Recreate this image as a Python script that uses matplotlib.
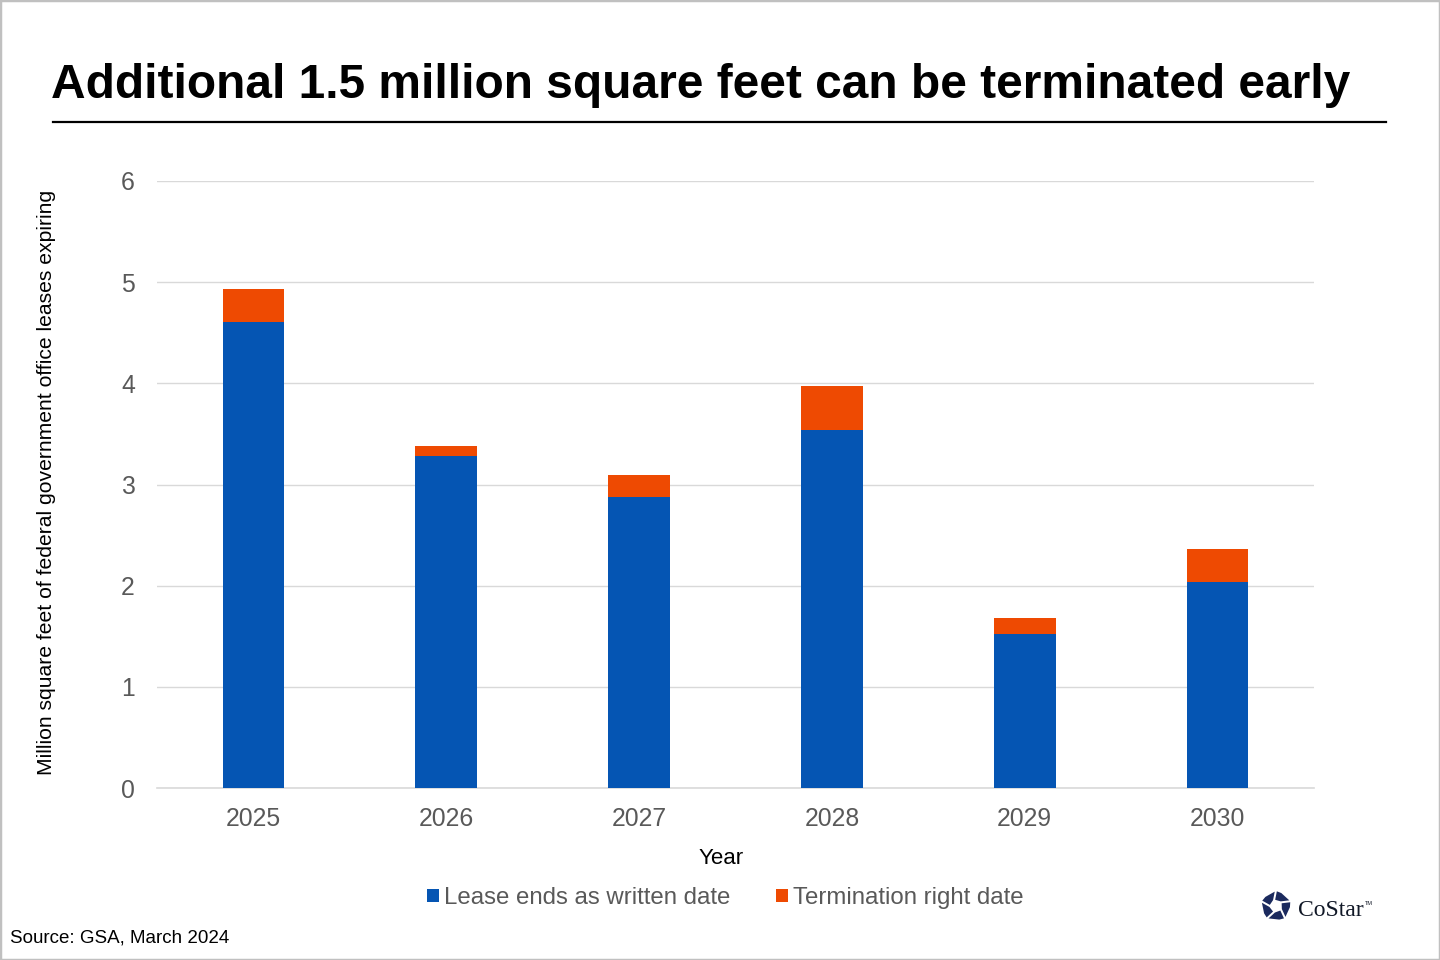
import numpy as np
import matplotlib
matplotlib.use("Agg")
import matplotlib.pyplot as plt
from matplotlib.patches import Polygon, Rectangle
from matplotlib.lines import Line2D

years = ["2025", "2026", "2027", "2028", "2029", "2030"]
lease_ends = [4.61, 3.28, 2.88, 3.54, 1.52, 2.04]
termination = [0.32, 0.10, 0.21, 0.43, 0.16, 0.32]
series_names = ["Lease ends as written date", "Termination right date"]
yticks = [0, 1, 2, 3, 4, 5, 6]

BLUE = "#0555B3"
ORANGE = "#EE4A02"
GRID = "#D9D9D9"
TICK = "#595959"

plt.rcParams["font.family"] = ["Liberation Sans", "DejaVu Sans"]

fig = plt.figure(figsize=(14.4, 9.6), dpi=100)
W, H = 1440, 960

def fx(px):
    return px / W

def fy(py):
    return 1 - py / H

ax = fig.add_axes([fx(157), fy(788), fx(1314) - fx(157), fy(181) - fy(788)])
x = np.arange(len(years))
b1 = ax.bar(x, lease_ends, width=0.32, color=BLUE, zorder=3)
b2 = ax.bar(x, termination, width=0.32, bottom=lease_ends, color=ORANGE, zorder=3)
ax.set_xlim(-0.5, len(years) - 0.5)
ax.set_ylim(0, 6)
ax.set_yticks(yticks)
ax.set_yticklabels([str(v) for v in yticks])
ax.set_xticks(x)
ax.set_xticklabels(years)
ax.tick_params(axis="both", length=0, labelsize=17.8, colors=TICK)
ax.tick_params(axis="y", pad=16)
ax.tick_params(axis="x", pad=13.5)
ax.yaxis.grid(True, color=GRID, lw=1, zorder=0)
ax.set_axisbelow(True)
for s in ["left", "right", "top"]:
    ax.spines[s].set_visible(False)
ax.spines["bottom"].set_color(GRID)
ax.spines["bottom"].set_linewidth(1.2)
ax.patch.set_alpha(0)

# Year label
fig.text(fx(721), fy(858), "Year", ha="center", va="center", fontsize=16, color="black")

# Y label
fig.text(fx(47), fy(482), "Million square feet of federal government office leases expiring",
         rotation=90, ha="center", va="center", fontsize=15.2, color="black")

# Title
fig.text(fx(51), fy(98), "Additional 1.5 million square feet can be terminated early",
         ha="left", va="baseline", fontsize=34.5, fontweight="bold", color="black")
fig.add_artist(Line2D([fx(53), fx(1386)], [fy(122), fy(122)], color="black", lw=1.6,
                      transform=fig.transFigure))

# Legend
leg = fig.legend([b1, b2], series_names, loc="center", bbox_to_anchor=(fx(725), fy(898)),
                 ncol=2, frameon=False, fontsize=17.3, handlelength=0.5, handleheight=0.5,
                 handletextpad=0.2, columnspacing=1.9)
for t in leg.get_texts():
    t.set_color(TICK)

# Source
fig.text(fx(10), fy(938), "Source: GSA, March 2024", ha="left", va="center", fontsize=13.5, color="black")

# CoStar logo
NAVY = "#1B2A5E"
lax = fig.add_axes([fx(1256), fy(926), fx(40), fy(886) - fy(926)])
lax.set_xlim(0, 40)
lax.set_ylim(0, 40)
lax.set_aspect("equal")
lax.axis("off")
cx, cy = 20, 20
R, r = 16, 6
for k in range(5):
    a0 = np.deg2rad(90 + 72 * k)
    a1 = np.deg2rad(90 + 72 * (k + 1))
    ai = np.deg2rad(90 + 72 * k + 36)
    p_outer0 = (cx + R * np.cos(a0), cy + R * np.sin(a0))
    p_outer1 = (cx + R * np.cos(a1), cy + R * np.sin(a1))
    p_mid = (cx + R * 0.93 * np.cos(ai + 0.25), cy + R * 0.93 * np.sin(ai + 0.25))
    p_in0 = (cx + r * np.cos(a0 + 0.35), cy + r * np.sin(a0 + 0.35))
    p_in1 = (cx + r * np.cos(a1 + 0.35), cy + r * np.sin(a1 + 0.35))
    poly = [p_outer0, p_mid, p_outer1, p_in1, p_in0]
    pc = np.mean(poly, axis=0)
    poly = [pc + 0.82 * (np.array(p) - pc) for p in poly]
    lax.add_patch(Polygon(poly, closed=True, color=NAVY, lw=0))
fig.text(fx(1298), fy(916), "CoStar", ha="left", va="baseline", fontsize=17,
         family=["Liberation Serif", "DejaVu Serif"], color="#111827")
fig.text(fx(1365), fy(905), "TM", ha="left", va="baseline", fontsize=4, color="#111827")

# Border
fig.add_artist(Rectangle((0, 0), 1, 1, transform=fig.transFigure, fill=False,
                         edgecolor="#C0C0C0", lw=2.5))

fig.savefig("out.png", dpi=100)
